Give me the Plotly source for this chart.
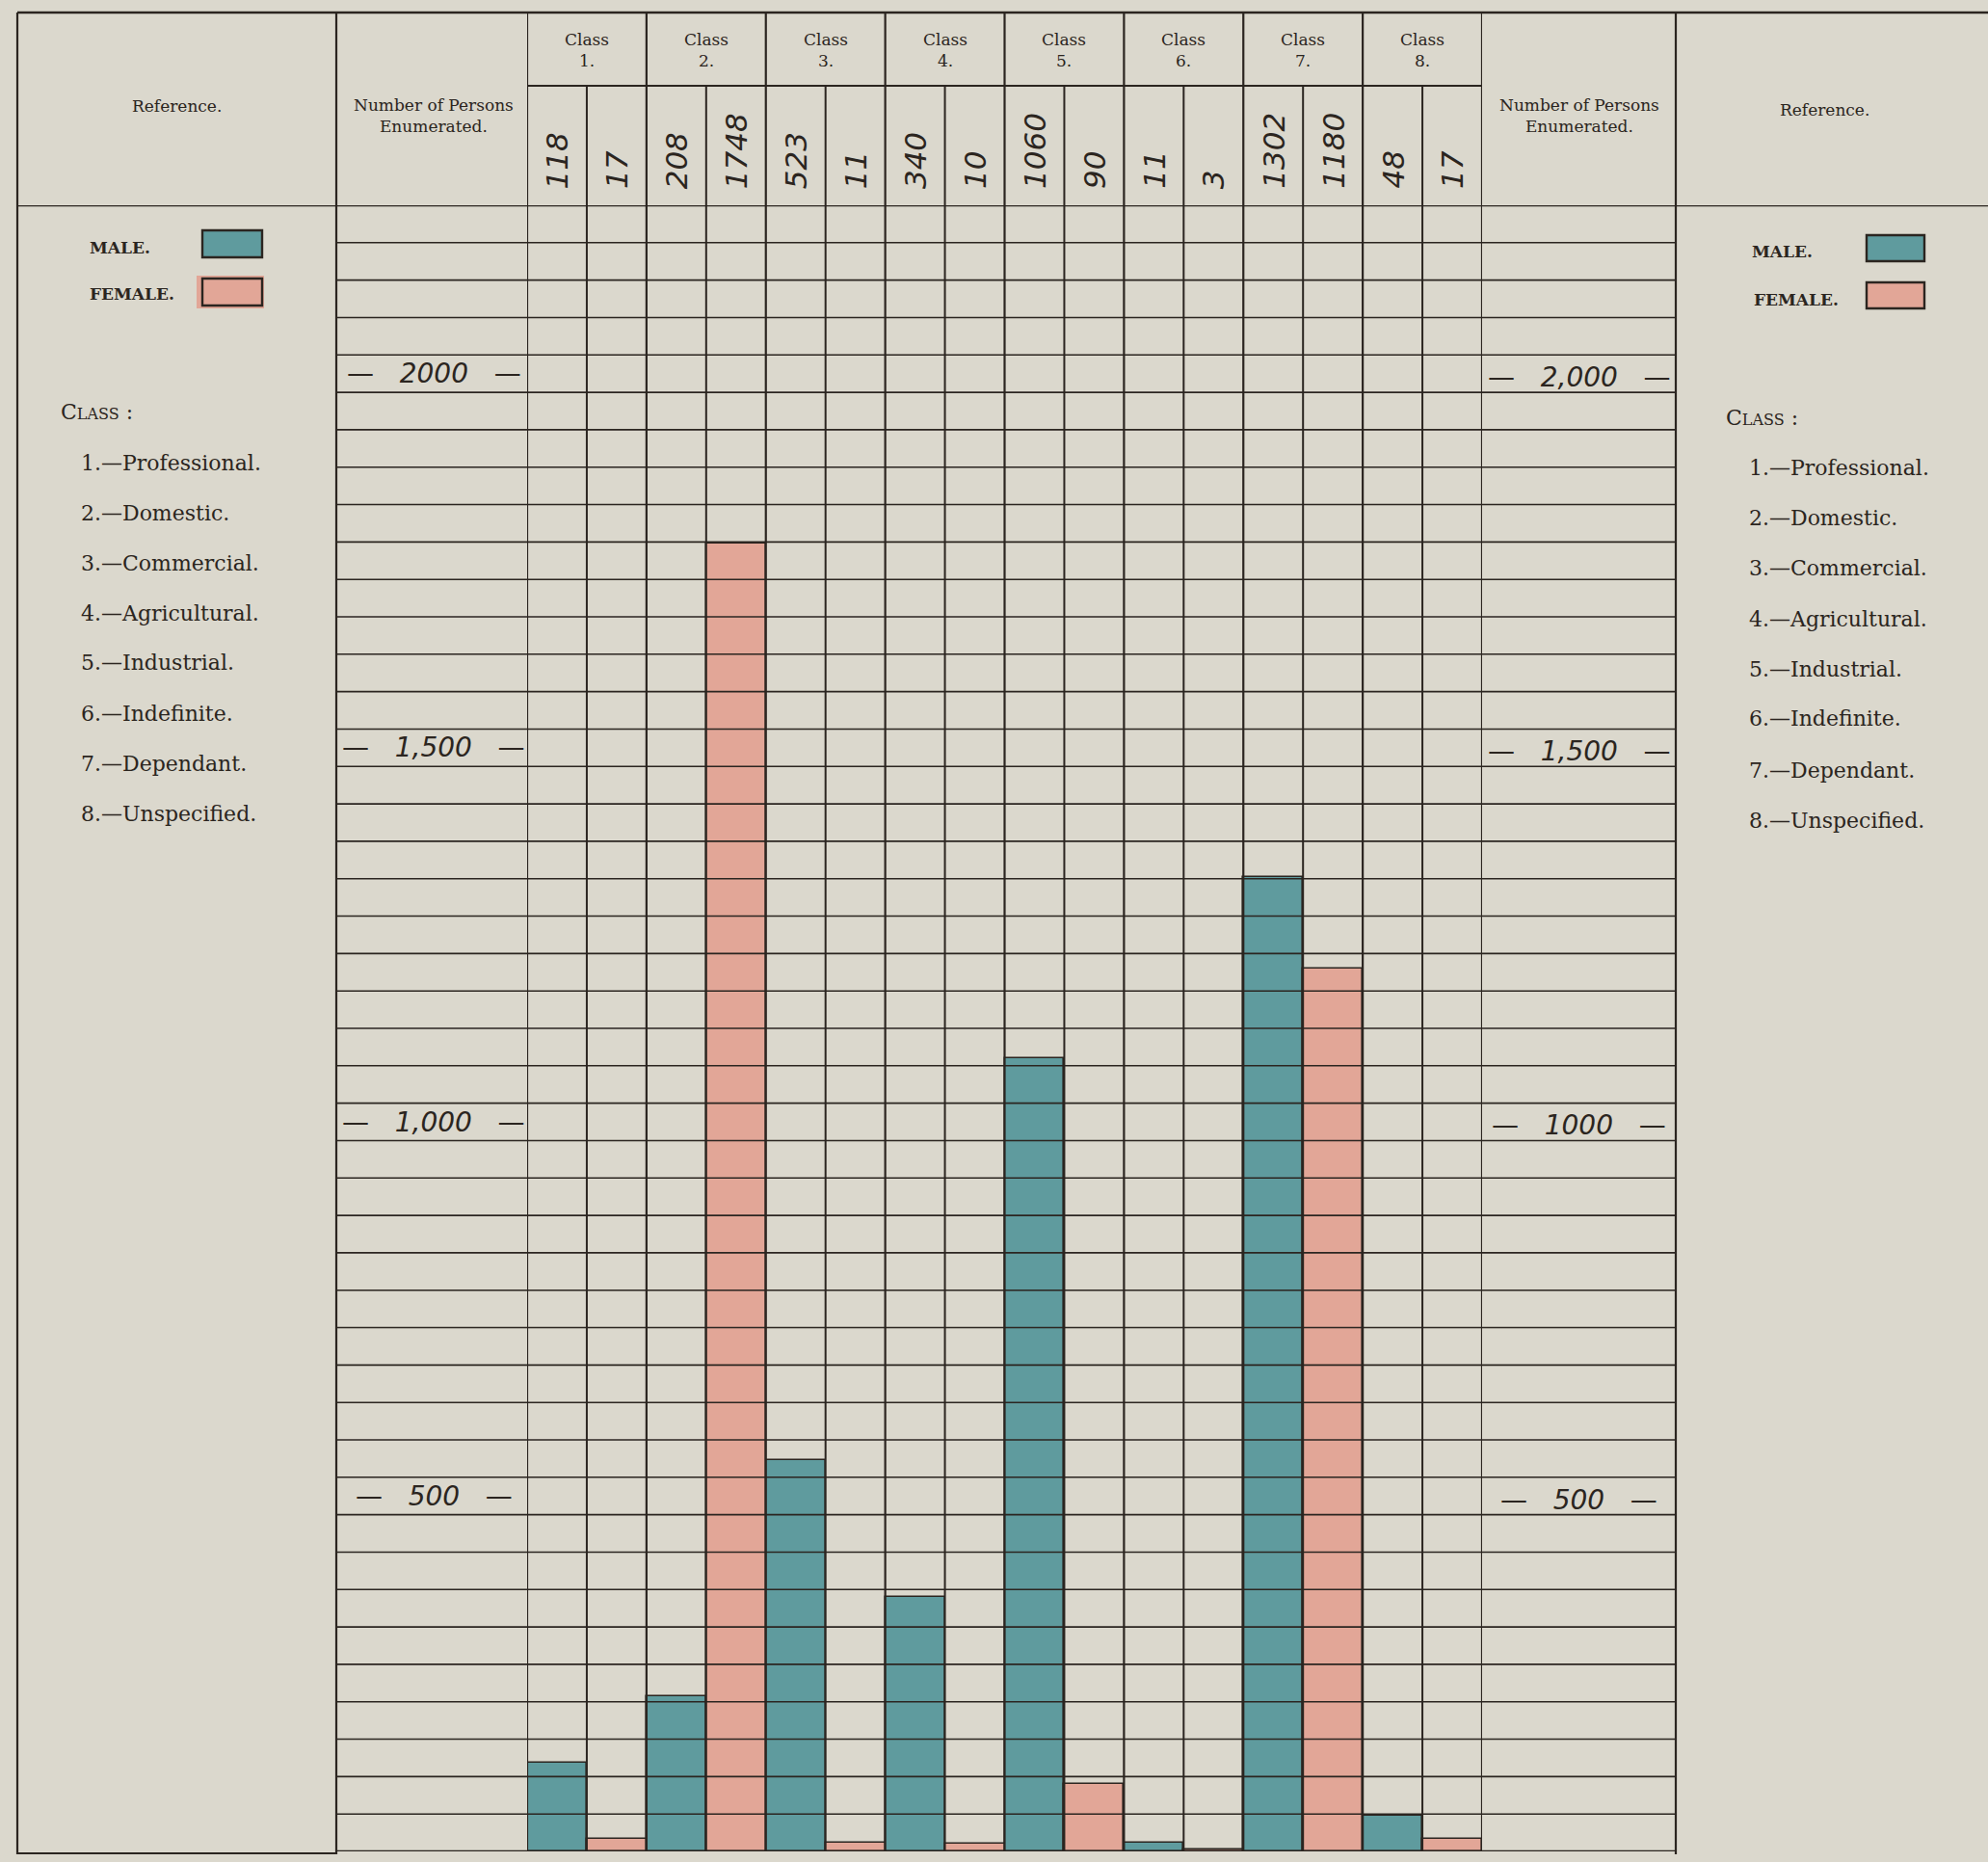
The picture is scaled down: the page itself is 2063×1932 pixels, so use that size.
import plotly.graph_objects as go

# ---------------- data ----------------
class_numbers = ["1", "2", "3", "4", "5", "6", "7", "8"]
male = [118, 208, 523, 340, 1060, 11, 1302, 48]
female = [17, 1748, 11, 10, 90, 3, 1180, 17]
class_names = ["Professional", "Domestic", "Commercial", "Agricultural",
               "Industrial", "Indefinite", "Dependant", "Unspecified"]
tick_values = [2000, 1500, 1000, 500]
left_tick_text = ["2000", "1,500", "1,000", "500"]
right_tick_text = ["2,000", "1,500", "1000", "500"]
grid_step = 50
y_max = 2200

# ---------------- style ----------------
W, H = 2063, 1932
PAPER = "#dbd8cd"
INK = "#2b2520"
MALE_C = "#5f9b9e"
FEMALE_C = "#e2a697"
SERIF = "DejaVu Serif"
HAND = "DejaVu Sans"


def px(x):
    return x / W


def py(y):
    return 1 - y / H


# page geometry (pixels)
LEFT, REF_L, PLOT_L, PLOT_R, REF_R = 18, 349, 547, 1538, 1739
TOP, ROW1, HEAD_B, BASE = 13, 89, 213, 1921

n = len(class_numbers)
male_x = [2 * i for i in range(n)]
female_x = [2 * i + 1 for i in range(n)]

fig = go.Figure()
fig.add_trace(go.Bar(x=male_x, y=male, width=1, name="MALE.",
                     marker=dict(color=MALE_C, line=dict(color=INK, width=1.6)),
                     showlegend=False))
fig.add_trace(go.Bar(x=female_x, y=female, width=1, name="FEMALE.",
                     marker=dict(color=FEMALE_C, line=dict(color=INK, width=1.6)),
                     showlegend=False))

shapes = []
annotations = []

# horizontal grid lines (in data units)
v = grid_step
while v < y_max:
    shapes.append(dict(type="line", xref="paper", yref="y", x0=px(REF_L), x1=px(REF_R),
                       y0=v, y1=v, line=dict(color=INK, width=1.6)))
    v += grid_step
# header bottom (top of the grid)
shapes.append(dict(type="line", xref="paper", yref="y", x0=px(LEFT), x1=1,
                   y0=y_max, y1=y_max, line=dict(color=INK, width=2.4)))
# baseline
shapes.append(dict(type="line", xref="paper", yref="y", x0=px(REF_L), x1=px(REF_R),
                   y0=0, y1=0, line=dict(color=INK, width=2.6)))
shapes.append(dict(type="line", xref="paper", yref="paper", x0=px(LEFT), x1=px(REF_L),
                   y0=py(BASE + 2), y1=py(BASE + 2), line=dict(color=INK, width=2.2)))
# top border
shapes.append(dict(type="line", xref="paper", yref="paper", x0=px(LEFT), x1=1,
                   y0=py(TOP), y1=py(TOP), line=dict(color=INK, width=2.4)))
# class label row bottom
shapes.append(dict(type="line", xref="x", yref="paper", x0=-0.5, x1=2 * n - 0.5,
                   y0=py(ROW1), y1=py(ROW1), line=dict(color=INK, width=2.2)))
# class boundaries
for k in range(n + 1):
    xb = -0.5 + 2 * k
    shapes.append(dict(type="line", xref="x", yref="paper", x0=xb, x1=xb,
                       y0=py(TOP), y1=py(BASE), line=dict(color=INK, width=2.2)))
# male/female sub-column boundaries
for k in range(n):
    xb = 0.5 + 2 * k
    shapes.append(dict(type="line", xref="x", yref="paper", x0=xb, x1=xb,
                       y0=py(ROW1), y1=py(BASE), line=dict(color=INK, width=2)))
# outer / reference column verticals
for xv in [LEFT, REF_L, REF_R]:
    shapes.append(dict(type="line", xref="paper", yref="paper", x0=px(xv), x1=px(xv),
                       y0=py(TOP), y1=py(BASE + 3), line=dict(color=INK, width=2.2)))

# ---------------- header texts ----------------
annotations.append(dict(text="Reference.", x=px((LEFT + REF_L) / 2), y=py(110),
                        font=dict(size=17)))
annotations.append(dict(text="Number of Persons<br>Enumerated.", x=px((REF_L + PLOT_L) / 2 + 2),
                        y=py(120), font=dict(size=17)))
annotations.append(dict(text="Number of Persons<br>Enumerated.", x=px((PLOT_R + REF_R) / 2),
                        y=py(120), font=dict(size=17)))
annotations.append(dict(text="Reference.", x=px((REF_R + W) / 2 - 8), y=py(114),
                        font=dict(size=17)))

for i, c in enumerate(class_numbers):
    annotations.append(dict(text="Class<br>" + c + ".", xref="x", x=2 * i + 0.5,
                            y=py(52), font=dict(size=17)))
    annotations.append(dict(text="<i>" + str(male[i]) + "</i>", xref="x", x=male_x[i],
                            y=py(198), yanchor="bottom", textangle=-90,
                            font=dict(family=HAND, size=31)))
    annotations.append(dict(text="<i>" + str(female[i]) + "</i>", xref="x", x=female_x[i],
                            y=py(198), yanchor="bottom", textangle=-90,
                            font=dict(family=HAND, size=31)))

# ---------------- scale labels ----------------
for tv, lt, rt in zip(tick_values, left_tick_text, right_tick_text):
    annotations.append(dict(text="—   <i>" + lt + "</i>   —", xref="paper", yref="y",
                            x=px((REF_L + PLOT_L) / 2 + 2), y=tv - 25,
                            font=dict(family=HAND, size=28)))
    annotations.append(dict(text="—   <i>" + rt + "</i>   —", xref="paper", yref="y",
                            x=px((PLOT_R + REF_R) / 2), y=tv - 30,
                            font=dict(family=HAND, size=28)))


# ---------------- reference legends ----------------
def reference_block(male_lbl_x, fem_lbl_x, male_y, fem_y, box_x0, box_x1,
                    male_box, fem_box, class_x, class_y, item_x, item_ys, glow):
    annotations.append(dict(text="<b>MALE.</b>", x=px(male_lbl_x), y=py(male_y),
                            font=dict(size=17)))
    annotations.append(dict(text="<b>FEMALE.</b>", x=px(fem_lbl_x), y=py(fem_y),
                            font=dict(size=17)))
    if glow:
        shapes.append(dict(type="rect", xref="paper", yref="paper",
                           x0=px(box_x0 - 6), x1=px(box_x1 + 2),
                           y0=py(fem_box[1] + 3), y1=py(fem_box[0] - 3),
                           fillcolor=FEMALE_C, line=dict(width=0), layer="below"))
    shapes.append(dict(type="rect", xref="paper", yref="paper", x0=px(box_x0), x1=px(box_x1),
                       y0=py(male_box[1]), y1=py(male_box[0]),
                       fillcolor=MALE_C, line=dict(color=INK, width=2.4)))
    shapes.append(dict(type="rect", xref="paper", yref="paper", x0=px(box_x0), x1=px(box_x1),
                       y0=py(fem_box[1]), y1=py(fem_box[0]),
                       fillcolor=FEMALE_C, line=dict(color=INK, width=2.4)))
    annotations.append(dict(text="C<span style='font-size:16px'>LASS</span> :",
                            x=px(class_x), y=py(class_y), xanchor="left",
                            font=dict(size=22)))
    for k, (name, yy) in enumerate(zip(class_names, item_ys)):
        annotations.append(dict(text=f"{k + 1}.—{name}.", x=px(item_x), y=py(yy),
                                xanchor="left", font=dict(size=22)))


reference_block(124, 137, 257, 305, 210, 272, (239, 267), (289, 317),
                61, 428, 82, [481, 533, 584, 636, 688, 740, 792, 844], True)
reference_block(1849, 1864, 261, 311, 1937, 1997, (244, 271), (293, 320),
                1789, 433, 1813, [485, 537, 590, 642, 694, 746, 799, 851], False)

for a in annotations:
    a.setdefault("xref", "paper")
    a.setdefault("yref", "paper")
    a.setdefault("showarrow", False)
    a.setdefault("xanchor", "center")
    a.setdefault("yanchor", "middle")
    a.setdefault("font", {})
    a["font"].setdefault("color", INK)
    a["font"].setdefault("family", SERIF)

fig.update_layout(
    width=W, height=H,
    margin=dict(l=0, r=0, t=0, b=0),
    paper_bgcolor=PAPER, plot_bgcolor=PAPER,
    font=dict(family=SERIF, color=INK),
    xaxis=dict(domain=[px(PLOT_L), px(PLOT_R)], range=[-0.5, 2 * n - 0.5],
               visible=False, fixedrange=True),
    yaxis=dict(domain=[py(BASE), py(HEAD_B)], range=[0, y_max],
               visible=False, fixedrange=True),
    shapes=shapes, annotations=annotations, bargap=0,
)

fig.write_html("out.html",
               config={"displayModeBar": False},
               post_script="document.body.style.margin='0';"
                           "document.body.style.background='" + PAPER + "';")
